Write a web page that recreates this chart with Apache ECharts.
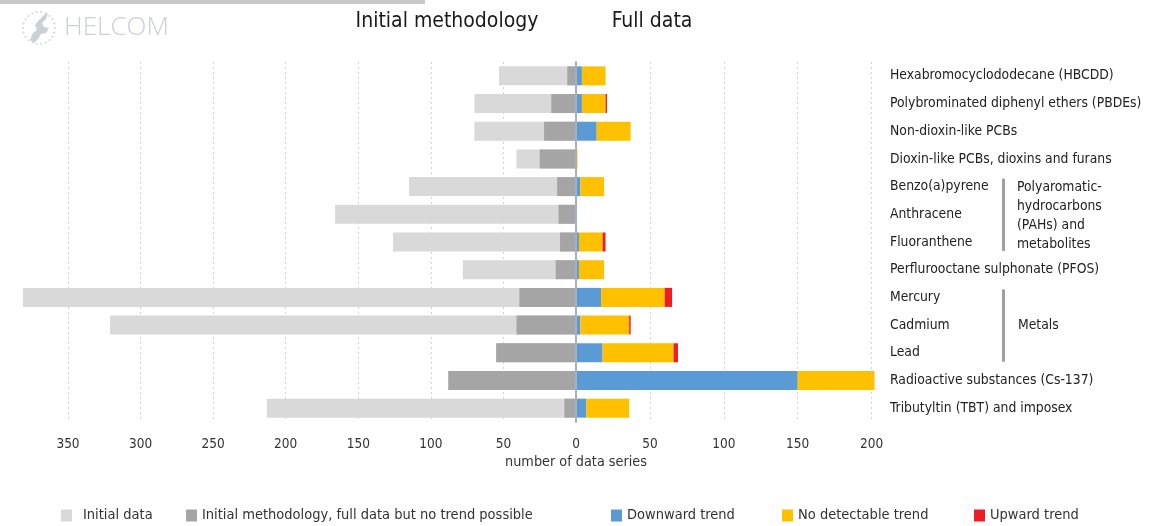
<!DOCTYPE html>
<html><head><meta charset="utf-8">
<script src="https://cdn.jsdelivr.net/npm/echarts@6/dist/echarts.min.js"></script>
<style>html,body{margin:0;padding:0;background:#fff}#c{width:1174px;height:526px}</style>
</head><body><div id="c"></div>
<script>
const categories = [
  'Hexabromocyclododecane (HBCDD)',
  'Polybrominated diphenyl ethers (PBDEs)',
  'Non-dioxin-like PCBs',
  'Dioxin-like PCBs, dioxins and furans',
  'Benzo(a)pyrene',
  'Anthracene',
  'Fluoranthene',
  'Perflurooctane sulphonate (PFOS)',
  'Mercury',
  'Cadmium',
  'Lead',
  'Radioactive substances (Cs-137)',
  'Tributyltin (TBT) and imposex'
];
const initialData      = [53, 70, 70, 41, 115, 166, 126, 78, 381, 321, 55, 88, 213];
const noTrendPossible  = [6, 17, 22, 25, 13, 12, 11, 14, 39, 41, 55, 88, 8];
const downwardTrend    = [4, 4, 14, 0, 3, 0, 2, 2, 17, 3, 18, 150, 7];
const noDetectable     = [16, 16, 23, 1, 16, 0, 16, 17, 43, 33, 48, 52, 29];
const upwardTrend      = [0, 1, 0, 0, 0, 0, 2, 0, 5, 1, 3, 0, 0];
const leftTicks  = [-350, -300, -250, -200, -150, -100, -50];
const leftLabels = [-350, -300, -250, -200, -150, -100, -50, 0];
const rightTicks = [50, 100, 150, 200];

const FONT = "'DejaVu Sans Condensed', 'Liberation Sans Narrow', 'Liberation Sans', sans-serif";
const C = {light:'#d9d9d9', dark:'#a5a5a5', blue:'#5b9bd5', yellow:'#ffc000', red:'#ee1c25'};
const chart = echarts.init(document.getElementById('c'));

const split = {show:true, lineStyle:{color:'#cfd3d6', type:[2,3], width:1}};
const barW = 19;
const legendBase = {top:508, padding:0, itemWidth:11, itemHeight:12, icon:'rect',
  textStyle:{fontFamily:FONT, fontSize:14.5, color:'#333'}};

const option = {
  animation:false,
  textStyle:{fontFamily:FONT},
  grid:[
    {left:23, width:553, top:62, height:360},
    {left:576, width:300, top:62, height:360}
  ],
  xAxis:[
    {type:'value', gridIndex:0, min:-381, max:0,
      axisLine:{show:false},
      axisTick:{show:false, customValues:leftTicks},
      splitLine:split,
      axisLabel:{customValues:leftLabels, formatter:v=>String(Math.abs(v)), margin:15,
        color:'#333', fontSize:13.5, fontFamily:FONT}},
    {type:'value', gridIndex:1, min:0, max:203,
      axisLine:{show:false},
      axisTick:{show:false, customValues:rightTicks},
      splitLine:split,
      axisLabel:{customValues:rightTicks, margin:15, color:'#333', fontSize:13.5, fontFamily:FONT}}
  ],
  yAxis:[
    {type:'category', gridIndex:0, data:categories, inverse:true, position:'right', z:5,
      axisLine:{show:true, lineStyle:{color:'#a8b0b8', width:2}},
      axisTick:{show:false}, axisLabel:{show:false}, splitLine:{show:false}},
    {type:'category', gridIndex:1, data:categories, inverse:true, position:'right',
      axisLine:{show:false}, axisTick:{show:false}, splitLine:{show:false},
      axisLabel:{margin:14, color:'#222', fontSize:13.8, fontFamily:FONT}}
  ],
  legend:[
    Object.assign({}, legendBase, {left:61, data:['Initial data'],
      textStyle:Object.assign({}, legendBase.textStyle, {padding:[0,0,0,6]})}),
    Object.assign({}, legendBase, {left:186, data:['Initial methodology, full data but no trend possible']}),
    Object.assign({}, legendBase, {left:611, data:['Downward trend']}),
    Object.assign({}, legendBase, {left:782, data:['No detectable trend']}),
    Object.assign({}, legendBase, {left:974, data:['Upward trend']})
  ],
  series:[
    {name:'Initial data', type:'bar', xAxisIndex:0, yAxisIndex:0, barWidth:barW, barGap:'-100%',
      itemStyle:{color:C.light}, data:initialData.map(v=>-v)},
    {name:'Initial methodology, full data but no trend possible', type:'bar', xAxisIndex:0, yAxisIndex:0,
      barWidth:barW, barGap:'-100%', itemStyle:{color:C.dark}, data:noTrendPossible.map(v=>-v)},
    {name:'Downward trend', type:'bar', stack:'full', xAxisIndex:1, yAxisIndex:1, barWidth:barW,
      itemStyle:{color:C.blue}, data:downwardTrend},
    {name:'No detectable trend', type:'bar', stack:'full', xAxisIndex:1, yAxisIndex:1, barWidth:barW,
      itemStyle:{color:C.yellow}, data:noDetectable},
    {name:'Upward trend', type:'bar', stack:'full', xAxisIndex:1, yAxisIndex:1, barWidth:barW,
      itemStyle:{color:C.red}, data:upwardTrend}
  ]
};
chart.setOption(option);

// annotations positioned from the axes
const yOf = c => chart.convertToPixel({yAxisIndex:1}, c);
const x0 = chart.convertToPixel({xAxisIndex:0}, 0);
const gTxt = (x, y, t, o) => ({type:'text', x, y, silent:true,
  style:Object.assign({text:t, fill:'#222', font:'13.8px ' + FONT, verticalAlign:'middle'}, o||{})});

const pahTop = yOf('Benzo(a)pyrene') - 8, pahBot = yOf('Fluoranthene') + 9;
const metTop = yOf('Mercury') - 8, metBot = yOf('Lead') + 9;

const dots = [];
for (let i = 0; i < 22; i++) {
  const a = i / 22 * Math.PI * 2;
  dots.push({type:'circle', shape:{cx:39 + 16 * Math.cos(a), cy:28 + 16 * Math.sin(a), r:0.9},
    style:{fill:'#c9d0d6'}, silent:true});
}

chart.setOption({graphic:[
  {type:'rect', shape:{x:0, y:0, width:425, height:4}, style:{fill:'#c8c8c8'}, silent:true},
  ...dots,
  {type:'polygon', silent:true, shape:{points:[[30,40],[33,33],[37,30],[35,25],[39,20],[44,15],[48,13],[46,19],[42,23],[44,27],[49,28],[46,33],[41,34],[38,39],[34,43]]},
    style:{fill:'#c9d0d6'}},
  {type:'text', x:64, y:28, silent:true, style:{text:'HELCOM', fill:'#c9d0d6',
    font:'300 26px "Open Sans", sans-serif', verticalAlign:'middle'}},
  gTxt(447, 22, 'Initial methodology', {font:'500 21px ' + FONT, align:'center', fill:'#1a1a1a'}),
  gTxt(652, 22, 'Full data', {font:'500 21px ' + FONT, align:'center', fill:'#1a1a1a'}),
  gTxt(x0, 462, 'number of data series', {align:'center', fill:'#333', font:'14.3px ' + FONT}),
  {type:'rect', silent:true, shape:{x:1002, y:pahTop, width:3, height:pahBot - pahTop}, style:{fill:'#a0a0a0'}},
  {type:'rect', silent:true, shape:{x:1002, y:metTop, width:3, height:metBot - metTop}, style:{fill:'#a0a0a0'}},
  gTxt(1017, yOf('Benzo(a)pyrene') - 9, 'Polyaromatic-\nhydrocarbons\n(PAHs) and\nmetabolites',
    {verticalAlign:'top', lineHeight:19}),
  gTxt(1018, yOf('Cadmium'), 'Metals')
]});
</script></body></html>
